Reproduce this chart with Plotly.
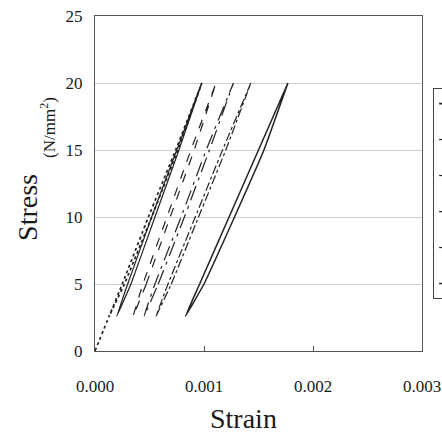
import plotly.graph_objects as go

# ---- data ----
stress_up = [2.6, 5, 10, 15, 20]          # loading branch stress levels (N/mm2)
stress_down = [20, 15, 10, 5, 2.6]        # unloading branch stress levels

series_names = ["N = 1", "N = 10", "N = 100", "N = 1000", "N = 10000", "N = 100000"]
series_dash = ["dot", "solid", "dash", "longdashdot", "dashdot", "solid"]
series_width = [1.7, 1.2, 1.2, 1.2, 1.2, 1.5]

# first loop starts at the origin
first_up_stress = [0, 2.6, 5, 10, 15, 20]
first_up_strain = [0, 0.00013, 0.00025, 0.00049, 0.00074, 0.00098]
first_down_strain = [0.00098, 0.00076, 0.00052, 0.00027, 0.00013]

loop2_up = [0.00020, 0.00033, 0.00055, 0.00077, 0.00098]
loop2_down = [0.00098, 0.00075, 0.00052, 0.00030, 0.00020]

loop3_up = [0.00035, 0.00047, 0.00069, 0.00091, 0.00111]
loop3_down = [0.00111, 0.00088, 0.00066, 0.00044, 0.00035]

loop4_up = [0.00045, 0.00058, 0.00082, 0.00105, 0.00127]
loop4_down = [0.00127, 0.00102, 0.00079, 0.00055, 0.00045]

loop5_up = [0.00056, 0.00070, 0.00095, 0.00120, 0.00143]
loop5_down = [0.00143, 0.00117, 0.00092, 0.00067, 0.00056]

loop6_up = [0.00083, 0.00100, 0.00128, 0.00155, 0.00177]
loop6_down = [0.00177, 0.00150, 0.00123, 0.00096, 0.00083]

x_ticks = [0.000, 0.001, 0.002, 0.003]
y_ticks = [0, 5, 10, 15, 20, 25]

# ---- build figure ----
loops = [
    (first_up_strain + first_down_strain, first_up_stress + stress_down),
    (loop2_up + loop2_down, stress_up + stress_down),
    (loop3_up + loop3_down, stress_up + stress_down),
    (loop4_up + loop4_down, stress_up + stress_down),
    (loop5_up + loop5_down, stress_up + stress_down),
    (loop6_up + loop6_down, stress_up + stress_down),
]

fig = go.Figure()
for i, (xs, ys) in enumerate(loops):
    fig.add_trace(go.Scatter(
        x=xs, y=ys, mode="lines", name=series_names[i],
        legendgroup=f"g{i}", hoverinfo="skip",
        line=dict(color="#222222", width=series_width[i], dash=series_dash[i],
                  shape="spline", smoothing=0.3),
    ))

serif = "Liberation Serif, Times New Roman, serif"

fig.update_layout(
    width=442, height=436,
    margin=dict(l=95, r=20, t=16, b=85, autoexpand=False),
    paper_bgcolor="white", plot_bgcolor="white",
    font=dict(family=serif, color="#222"),
    hovermode=False,
    showlegend=True,
    legend=dict(
        x=1.034, y=0.785, xanchor="left", yanchor="top",
        bordercolor="#444", borderwidth=1, bgcolor="white",
        font=dict(size=12, family=serif), tracegroupgap=17,
    ),
    xaxis=dict(
        range=[0, 0.003], tickvals=x_ticks, ticktext=[f"{v:.3f}" for v in x_ticks],
        showgrid=False, zeroline=False,
        showline=True, linecolor="#555", linewidth=1, mirror=True,
        ticks="inside", ticklen=5, tickcolor="#555",
        tickfont=dict(size=17, family=serif, color="#1a1a1a"), ticklabelstandoff=20,
        ticklabeloverflow="allow",
    ),
    yaxis=dict(
        range=[0, 25], tickvals=y_ticks,
        showgrid=True, gridcolor="#cfcfcf", gridwidth=1, zeroline=False,
        showline=True, linecolor="#555", linewidth=1, mirror=True,
        ticks="", tickfont=dict(size=17, family=serif, color="#1a1a1a"), ticklabelstandoff=8,
        ticklabeloverflow="allow",
    ),
    annotations=[
        dict(text="Strain", xref="paper", yref="paper", x=0.4526, y=-0.2,
             xanchor="center", yanchor="middle", showarrow=False,
             font=dict(size=28, family=serif, color="#1a1a1a")),
        dict(text="Stress", xref="paper", yref="paper", x=-0.205, y=0.43,
             xanchor="center", yanchor="middle", showarrow=False, textangle=-90,
             font=dict(size=28, family=serif, color="#1a1a1a")),
        dict(text="(N/mm<sup>2</sup>)", xref="paper", yref="paper", x=-0.1437, y=0.666,
             xanchor="center", yanchor="middle", showarrow=False, textangle=-90,
             font=dict(size=17, family=serif, color="#1a1a1a")),
    ],
)

# remove the default page margin so the figure fills the window exactly
fig.write_html(
    "out.html",
    config={"displayModeBar": False},
    post_script=(
        "document.body.style.margin='0';"
        "document.body.style.overflow='hidden';"
        "document.documentElement.style.overflow='hidden';"
    ),
)
